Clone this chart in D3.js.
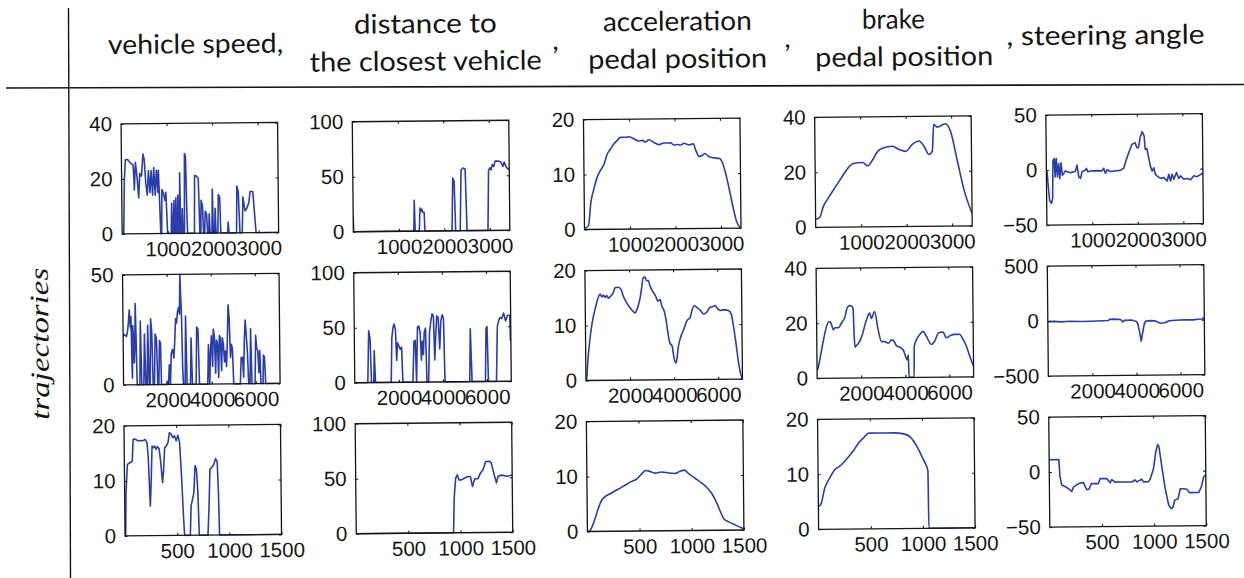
<!DOCTYPE html>
<html>
<head>
<meta charset="utf-8">
<script src="https://cdn.jsdelivr.net/npm/d3@7"></script>
<style>
  html, body { margin: 0; padding: 0; background: #fff; }
  svg { display: block; }
</style>
</head>
<body>
<svg id="chart" width="1244" height="578"></svg>
<script>
// ---- column headers and row label ----
const headerCols = [
  { lines: ["vehicle speed,"] },
  { lines: ["distance to", "the closest vehicle"], comma: true },
  { lines: ["acceleration", "pedal position"], comma: true },
  { lines: ["brake", "pedal position"] },
  { lines: [", steering angle"] }
];
const rowLabel = "trajectories";

// ---- axis settings per row / column ----
const rowXMax = [3440, 7100, 1500];
const rowXTicks = [[1000, 2000, 3000], [2000, 4000, 6000], [500, 1000, 1500]];
const yDomains = [
  [[0, 40], [0, 100], [0, 20], [0, 40], [-50, 50]],
  [[0, 50], [0, 100], [0, 20], [0, 40], [-500, 500]],
  [[0, 20], [0, 100], [0, 20], [0, 20], [-50, 50]]
];
const yTicks = [
  [[0, 20, 40], [0, 50, 100], [0, 10, 20], [0, 20, 40], [-50, 0, 50]],
  [[0, 50], [0, 50, 100], [0, 10, 20], [0, 20, 40], [-500, 0, 500]],
  [[0, 10, 20], [0, 50, 100], [0, 10, 20], [0, 10, 20], [-50, 0, 50]]
];

// ---- trajectory 1 ----
const speed1 = [[0,0],[36,0],[60,20],[87,27],[140,27],[182,26],[255,25],[270,20],[277,16],[306,26],[343,20],[372,13],[401,22],[437,21],[474,29],[500,27],[532,18],[561,14],[590,23],[620,15],[649,23],[678,14],[707,24],[736,14],[765,23],[795,15],[809,23],[830,12],[850,0],[870,0],[882,16],[911,15],[948,12],[970,15],[990,5],[1000,0],[1080,0],[1094,11],[1110,0],[1130,0],[1145,12],[1160,0],[1175,0],[1188,13],[1200,0],[1222,0],[1232,14],[1245,0],[1265,0],[1276,22],[1290,0],[1315,0],[1327,9],[1340,0],[1370,0],[1385,29],[1407,28],[1430,5],[1440,0],[1590,0],[1604,21],[1626,21],[1684,20],[1710,0],[1730,0],[1742,12],[1771,10],[1790,0],[1815,0],[1830,8],[1859,7],[1880,0],[1905,0],[1917,7],[1935,0],[1975,0],[1990,16],[2005,0],[2035,0],[2048,9],[2065,0],[2105,0],[2121,14],[2151,13],[2170,0],[2320,0],[2333,4],[2350,0],[2515,0],[2530,17],[2560,15],[2590,0],[2640,0],[2661,13],[2705,8],[2748,9],[2792,11],[2821,15],[2880,15],[2923,5],[2945,0],[3440,0]];
const distance1 = [[0,15],[8,0],[1330,0],[1345,28],[1360,0],[1450,0],[1470,21],[1490,18],[1510,20],[1530,17],[1560,17],[1575,0],[2170,0],[2195,48],[2225,45],[2250,0],[2350,0],[2380,55],[2420,57],[2470,56],[2500,0],[2960,0],[2985,55],[3020,57],[3040,55],[3070,60],[3100,58],[3130,63],[3200,63],[3260,62],[3300,58],[3330,62],[3380,57],[3440,55]];
const accel1 = [[0,0.3],[15,0.3],[88,0.7],[147,5.0],[206,7.1],[294,9.6],[368,10.8],[441,11.8],[515,13.7],[588,14.6],[662,15.5],[735,16.1],[809,16.7],[919,16.7],[992,16.8],[1103,16.4],[1213,16.0],[1286,16.1],[1360,15.8],[1433,16.2],[1544,15.7],[1654,15.3],[1764,15.6],[1911,15.6],[1985,15.2],[2058,15.3],[2132,15.2],[2205,15.5],[2316,15.2],[2411,15.4],[2462,14.2],[2536,13.1],[2609,13.3],[2661,13.6],[2756,13.0],[2867,12.8],[2977,12.7],[3050,11.8],[3124,9.6],[3197,6.8],[3271,3.7],[3344,1.2],[3440,0]];
const brake1 = [[0,3],[22,3],[95,3.7],[168,7.4],[278,10.5],[424,14.2],[570,17.8],[716,21.3],[826,23],[935,23.3],[1045,23.4],[1155,22.2],[1264,24.3],[1374,27.3],[1483,28.5],[1702,29.2],[1847,28],[1994,27.3],[2141,29.8],[2285,31],[2395,29.2],[2504,26.1],[2579,27.3],[2614,37],[2688,36],[2870,37.2],[2980,34.6],[3127,23.7],[3271,12.9],[3440,4.5]];
const steering1 = [[0,-1],[15,-1.8],[37,-14],[66,-27.7],[103,-30.2],[132,-26.2],[147,8.8],[176,10.4],[191,-6.4],[220,10.4],[242,-6.4],[271,5.8],[293,-7.9],[323,6.4],[352,-4.9],[418,-0.9],[528,-2.7],[638,-1.2],[674,4.3],[711,-6.4],[748,-7.9],[784,-1.8],[858,-0.3],[880,1.2],[909,-1.8],[968,-1.2],[1114,-0.9],[1224,-1.2],[1261,1.2],[1297,-3.4],[1334,-0.3],[1407,-1.8],[1554,-1.2],[1627,-0.9],[1701,1.2],[1759,8.8],[1811,14.9],[1884,22.6],[1957,24.1],[1994,19.5],[2030,19.5],[2067,28.7],[2111,34.1],[2155,30.2],[2177,18],[2214,18.6],[2250,10.4],[2287,2.7],[2324,-1.8],[2360,1.2],[2397,-4.9],[2434,-6.4],[2507,-8.5],[2580,-7.9],[2653,-11],[2690,-4.9],[2727,-11],[2763,-4.9],[2800,-9.5],[2859,-3.4],[2910,-8.8],[2947,-6.4],[3020,-9.5],[3093,-8.8],[3167,-10],[3240,-6.4],[3313,-7.3],[3440,-4]];

// ---- trajectory 2 ----
const speed2 = [[0,22],[45,23],[151,22],[196,24],[242,28],[287,34],[332,26],[362,31],[393,8],[408,3],[438,27],[468,22],[498,10],[529,18],[559,37],[589,20],[619,0],[740,0],[785,29],[830,0],[921,0],[966,23],[1012,0],[1072,0],[1117,27],[1163,0],[1208,0],[1253,30],[1299,24],[1344,0],[1404,0],[1450,23],[1510,21],[1555,0],[1601,0],[1646,20],[1691,19],[1721,0],[1948,0],[1978,1.5],[2039,0.5],[2084,9],[2129,0],[2174,14],[2235,16],[2295,12],[2341,20],[2386,30],[2431,28],[2476,33],[2522,35],[2567,32],[2597,50],[2627,40],[2658,30],[2688,8],[2718,0],[2794,0],[2839,31],[2884,0],[3035,0],[3080,21],[3126,0],[3292,0],[3337,26],[3398,25],[3443,0],[3820,0],[3866,18],[3911,0],[3956,15],[4002,22],[4047,8],[4092,25],[4137,22],[4183,5],[4228,20],[4273,19],[4319,3],[4364,22],[4409,21],[4454,6],[4500,21],[4545,18],[4590,10],[4636,15],[4681,8],[4726,20],[4772,36],[4817,30],[4862,12],[4907,18],[4953,16],[4998,0],[5300,0],[5345,12],[5406,12],[5451,3],[5496,20],[5542,29],[5587,22],[5632,14],[5678,0],[5738,0],[5783,25],[5829,0],[5965,0],[6010,22],[6055,16],[6100,15],[6146,5],[6191,15],[6236,0],[6327,0],[6357,13],[6402,12],[6448,0],[7100,0]];
const distance2 = [[0,0],[592,0],[652,47],[712,40],[758,0],[864,0],[895,29],[940,0],[1653,0],[1699,40],[1759,50],[1805,53],[1866,48],[1911,20],[1957,36],[2017,33],[2078,30],[2139,32],[2184,0],[2639,0],[2700,37],[2760,38],[2806,0],[2867,50],[2927,51],[2988,45],[3034,20],[3079,37],[3125,25],[3170,45],[3231,49],[3276,0],[3352,0],[3413,45],[3474,55],[3534,62],[3595,60],[3640,20],[3686,40],[3746,60],[3807,59],[3868,30],[3928,55],[3989,61],[4050,58],[4095,0],[5217,0],[5262,48],[5323,0],[5930,0],[5975,48],[6021,50],[6066,0],[6430,0],[6491,50],[6552,55],[6612,58],[6690,57],[6780,62],[6870,55],[6960,60],[7060,60],[7080,37],[7100,38]];
const accel2 = [[0,0],[30,0.3],[91,3.4],[181,7],[302,10.4],[453,13.1],[604,15.2],[680,15.7],[755,15.2],[831,15.5],[906,15.1],[982,15.4],[1057,14.9],[1133,15.2],[1208,15.5],[1284,16],[1359,16.8],[1510,16.9],[1631,16.5],[1737,15.2],[1888,14],[2039,13.1],[2190,12.4],[2265,12.2],[2341,12.8],[2416,13.7],[2492,14.9],[2567,16.8],[2643,18.6],[2718,18.7],[2794,18],[2869,18.1],[2945,17.1],[3096,15.9],[3201,15.2],[3292,14.3],[3398,14.6],[3473,13.4],[3579,12.5],[3654,11],[3730,8.8],[3820,6.7],[3926,6.1],[4002,4],[4077,3],[4122,3.4],[4198,5.8],[4304,7.6],[4455,9.1],[4606,10.7],[4757,11.3],[4832,12.5],[4953,13.4],[5059,13.1],[5210,12.6],[5361,11.9],[5512,12.2],[5663,13.1],[5768,13.2],[5889,13.4],[6010,12.8],[6116,12.5],[6221,12.6],[6342,12.6],[6493,12.5],[6614,11.9],[6720,9.5],[6825,6.4],[6916,3.4],[6991,1.5],[7100,0]];
const brake2 = [[0,3],[32,3.4],[149,7.7],[303,13.9],[452,18.9],[556,20.5],[646,20.1],[755,17.6],[827,18.3],[981,18.3],[1130,20.1],[1279,22],[1401,25.7],[1505,26.3],[1582,26.2],[1659,25.3],[1700,15],[1731,11.2],[1808,11.9],[1885,12.5],[2034,14.9],[2260,21],[2409,23.5],[2486,21.6],[2635,24.1],[2789,17.4],[2938,13.1],[3087,13.1],[3241,12.5],[3390,13.7],[3512,13.1],[3616,11.5],[3765,11],[3919,10],[4023,7.6],[4100,6.4],[4145,8.2],[4172,0],[4400,0],[4416,11.2],[4520,13.7],[4669,15.5],[4823,16.7],[4972,14.9],[5198,11.9],[5347,13.1],[5528,16.1],[5727,16.4],[5876,14.3],[6025,14.9],[6251,15.5],[6477,15.5],[6631,13.7],[6780,11.2],[6929,7.6],[7100,3.9]];
const steering2 = [[0,-5],[300,-3],[600,-8],[1000,-4],[1500,-6],[2000,-5],[2500,-2],[2750,0],[2800,10],[3000,12],[3300,8],[3400,-15],[3470,0],[3800,2],[3900,-5],[4000,-10],[4080,-30],[4160,-110],[4230,-190],[4300,-110],[4380,-30],[4450,-8],[4700,-5],[4900,-10],[5100,-30],[5300,-25],[5500,-8],[5800,-3],[6200,0],[6600,-2],[6800,3],[7000,5],[7100,20]];

// ---- trajectory 3 ----
const speed3 = [[0,0],[6,0],[13,7.8],[29,13],[54,13.3],[76,13.6],[86,17.5],[102,17.6],[133,17.3],[181,17.3],[203,17.5],[219,16.9],[229,14.5],[245,5.4],[254,9],[267,16.3],[280,16],[292,16.3],[305,15.7],[318,16.2],[334,15.8],[346,13.9],[365,9.6],[375,11.7],[388,16],[404,16.3],[420,16.9],[435,18.7],[451,18.4],[467,17.8],[483,18.1],[499,17.2],[515,18.2],[531,16.9],[547,10.8],[563,3],[572,0],[626,0],[636,5.4],[651,6.6],[664,7.8],[677,12.7],[690,12],[702,7.8],[712,0],[795,0],[807,4.8],[820,12],[839,12.3],[858,12.9],[874,13.9],[890,13.3],[899,7.8],[906,0],[1500,0]];
const distance3 = [[0,0],[933,0],[942,31.4],[958,49.7],[974,52.7],[990,48],[1013,48],[1045,49.7],[1077,51],[1099,51],[1118,42],[1141,49],[1173,49],[1195,54],[1221,57],[1247,64.6],[1285,64.6],[1301,63],[1327,52.7],[1349,45],[1365,51],[1400,52],[1450,51],[1500,52]];
const accel3 = [[0,0],[10,0],[144,5.8],[239,7],[335,8],[415,8.9],[479,9.5],[526,10.4],[565,11],[606,10.8],[654,10.5],[718,10.7],[782,10.5],[845,10.4],[893,10.8],[935,11],[973,10.4],[1037,9.5],[1101,8.6],[1148,7.8],[1196,6.7],[1244,4.9],[1276,3.4],[1308,2.1],[1356,1.5],[1420,0.9],[1500,0.2]];
const brake3 = [[0,4.2],[3,4.2],[29,4.8],[60,7.3],[108,9.2],[156,10.7],[220,11.6],[284,12.9],[347,14.4],[394,15.7],[442,16.6],[490,17.4],[570,17.4],[729,17.4],[824,17.2],[888,16.6],[952,14.8],[1000,12.9],[1031,11.7],[1053,10.5],[1057,0],[1500,0]];
const steering3 = [[0,11.2],[6,11.2],[93,11.2],[102,-4.3],[118,-11.8],[150,-13.3],[176,-14.8],[214,-17.8],[230,-13.9],[262,-11.8],[294,-10.3],[326,-9.7],[342,-13.3],[358,-16.3],[381,-15.7],[400,-10.9],[438,-10.9],[470,-10.9],[486,-6.4],[550,-6.4],[582,-10.3],[598,-7.3],[630,-9.7],[694,-9.7],[790,-9.7],[822,-7.9],[838,-9.7],[886,-7.3],[902,-9.7],[950,-9.7],[966,-7.3],[998,1.6],[1021,16.6],[1040,24],[1053,22.5],[1078,4.6],[1110,-16.3],[1142,-31.2],[1165,-34.2],[1181,-33.5],[1200,-26.7],[1232,-25.3],[1254,-16.3],[1286,-16.3],[1318,-16.8],[1341,-19.9],[1430,-19.9],[1456,-14.8],[1478,-5.8],[1500,-3.7]];

const series = [
  [speed1, distance1, accel1, brake1, steering1],
  [speed2, distance2, accel2, brake2, steering2],
  [speed3, distance3, accel3, brake3, steering3]
];
// columns whose signal is smooth get a monotone curve
const smoothCols = [false, false, true, true, false];

// ---- layout ----
const panelW = 156.5, panelH = 110;
const colX0 = 122.8, colStep = 231.2;
const rowTops = [119, 270, 421];
const lineColor = "#2a3dab";
const ink = "#151515";

const svg = d3.select("#chart");
svg.append("rect").attr("width", 1244).attr("height", 578).attr("fill", "#fff");

// table rules
svg.append("line").attr("x1", 68.5).attr("x2", 70.5).attr("y1", 8).attr("y2", 578)
  .attr("stroke", ink).attr("stroke-width", 1.4);
svg.append("line").attr("x1", 6).attr("x2", 1244).attr("y1", 88).attr("y2", 84.5)
  .attr("stroke", ink).attr("stroke-width", 1.6);

// the sheet is set slightly askew, as it sits on the page
const page = svg.append("g").attr("transform", "rotate(-0.55, 640, 300)");

// header text
const headFont = "Lato, 'Open Sans', sans-serif";
const headSize = 27;
const headSpecs = [
  { text: headerCols[0].lines[0], x: 110.5, y: 49, anchor: "start", len: 175 },
  { text: headerCols[1].lines[0], x: 428, y: 31, anchor: "middle", len: 143 },
  { text: headerCols[1].lines[1], x: 428, y: 68.5, anchor: "middle", len: 232 },
  { text: headerCols[2].lines[0], x: 680, y: 31, anchor: "middle", len: 149 },
  { text: headerCols[2].lines[1], x: 680, y: 68.5, anchor: "middle", len: 179 },
  { text: headerCols[3].lines[0], x: 896, y: 31, anchor: "middle", len: 63 },
  { text: headerCols[3].lines[1], x: 906.5, y: 68.5, anchor: "middle", len: 178 },
  { text: headerCols[4].lines[0], x: 1009, y: 49, anchor: "start", len: 198 }
];
headSpecs.forEach(h => {
  page.append("text")
    .attr("x", h.x).attr("y", h.y)
    .attr("text-anchor", h.anchor)
    .attr("font-family", headFont).attr("font-size", headSize)
    .attr("fill", ink)
    .attr("textLength", h.len).attr("lengthAdjust", "spacingAndGlyphs")
    .text(h.text);
});
// separating commas after the stacked headers
const commaX = [null, 555, 787, null, null];
headerCols.forEach((h, i) => {
  if (h.comma) {
    page.append("text")
      .attr("x", commaX[i]).attr("y", 49)
      .attr("font-family", headFont).attr("font-size", headSize).attr("fill", ink)
      .text(",");
  }
});

// row label
page.append("text")
  .attr("transform", "translate(48, 338) rotate(-90)")
  .attr("text-anchor", "middle")
  .attr("font-family", "'Liberation Serif', 'DejaVu Serif', serif")
  .attr("font-style", "italic").attr("font-size", 26)
  .attr("fill", ink)
  .attr("textLength", 152).attr("lengthAdjust", "spacingAndGlyphs")
  .text(rowLabel);

// ---- panels ----
const tickFont = "'Liberation Sans', Arial, Helvetica, sans-serif";
const tickSize = 20.5;
const fmt = d3.format("d");

series.forEach((rowSeries, r) => {
  rowSeries.forEach((data, c) => {
    const left = colX0 + c * colStep;
    const top = rowTops[r];
    const g = page.append("g").attr("transform", `translate(${left},${top})`);

    const x = d3.scaleLinear().domain([0, rowXMax[r]]).range([0, panelW]);
    const y = d3.scaleLinear().domain(yDomains[r][c]).range([panelH, 0]);

    const clipId = `clip-${r}-${c}`;
    g.append("clipPath").attr("id", clipId)
      .append("rect").attr("x", 0).attr("y", -1).attr("width", panelW).attr("height", panelH + 2);

    const line = d3.line()
      .x(d => x(d[0])).y(d => y(d[1]))
      .curve(smoothCols[c] ? d3.curveMonotoneX : d3.curveLinear);

    g.append("path")
      .datum(data)
      .attr("clip-path", `url(#${clipId})`)
      .attr("fill", "none")
      .attr("stroke", lineColor)
      .attr("stroke-width", 1.6)
      .attr("stroke-linejoin", "round")
      .attr("d", line);

    const xt = rowXTicks[r], yt = yTicks[r][c];
    const styleAxis = sel => {
      sel.select(".domain").remove();
      sel.selectAll(".tick line").attr("stroke", ink).attr("stroke-width", 1.1);
      sel.selectAll("text").attr("font-family", tickFont).attr("font-size", tickSize).attr("fill", ink);
    };

    g.append("g").attr("transform", `translate(0,${panelH})`)
      .call(d3.axisBottom(x).tickValues(xt).tickFormat(fmt).tickSizeInner(-2.5).tickSizeOuter(0).tickPadding(8))
      .call(styleAxis);
    g.append("g")
      .call(d3.axisTop(x).tickValues(xt).tickFormat("").tickSizeInner(-2.5).tickSizeOuter(0))
      .call(styleAxis);
    g.append("g")
      .call(d3.axisLeft(y).tickValues(yt).tickFormat(fmt).tickSizeInner(-2.5).tickSizeOuter(0).tickPadding(9))
      .call(styleAxis);
    g.append("g").attr("transform", `translate(${panelW},0)`)
      .call(d3.axisRight(y).tickValues(yt).tickFormat("").tickSizeInner(-2.5).tickSizeOuter(0))
      .call(styleAxis);

    g.append("rect")
      .attr("width", panelW).attr("height", panelH)
      .attr("fill", "none").attr("stroke", ink).attr("stroke-width", 1.3);
  });
});
</script>
</body>
</html>
